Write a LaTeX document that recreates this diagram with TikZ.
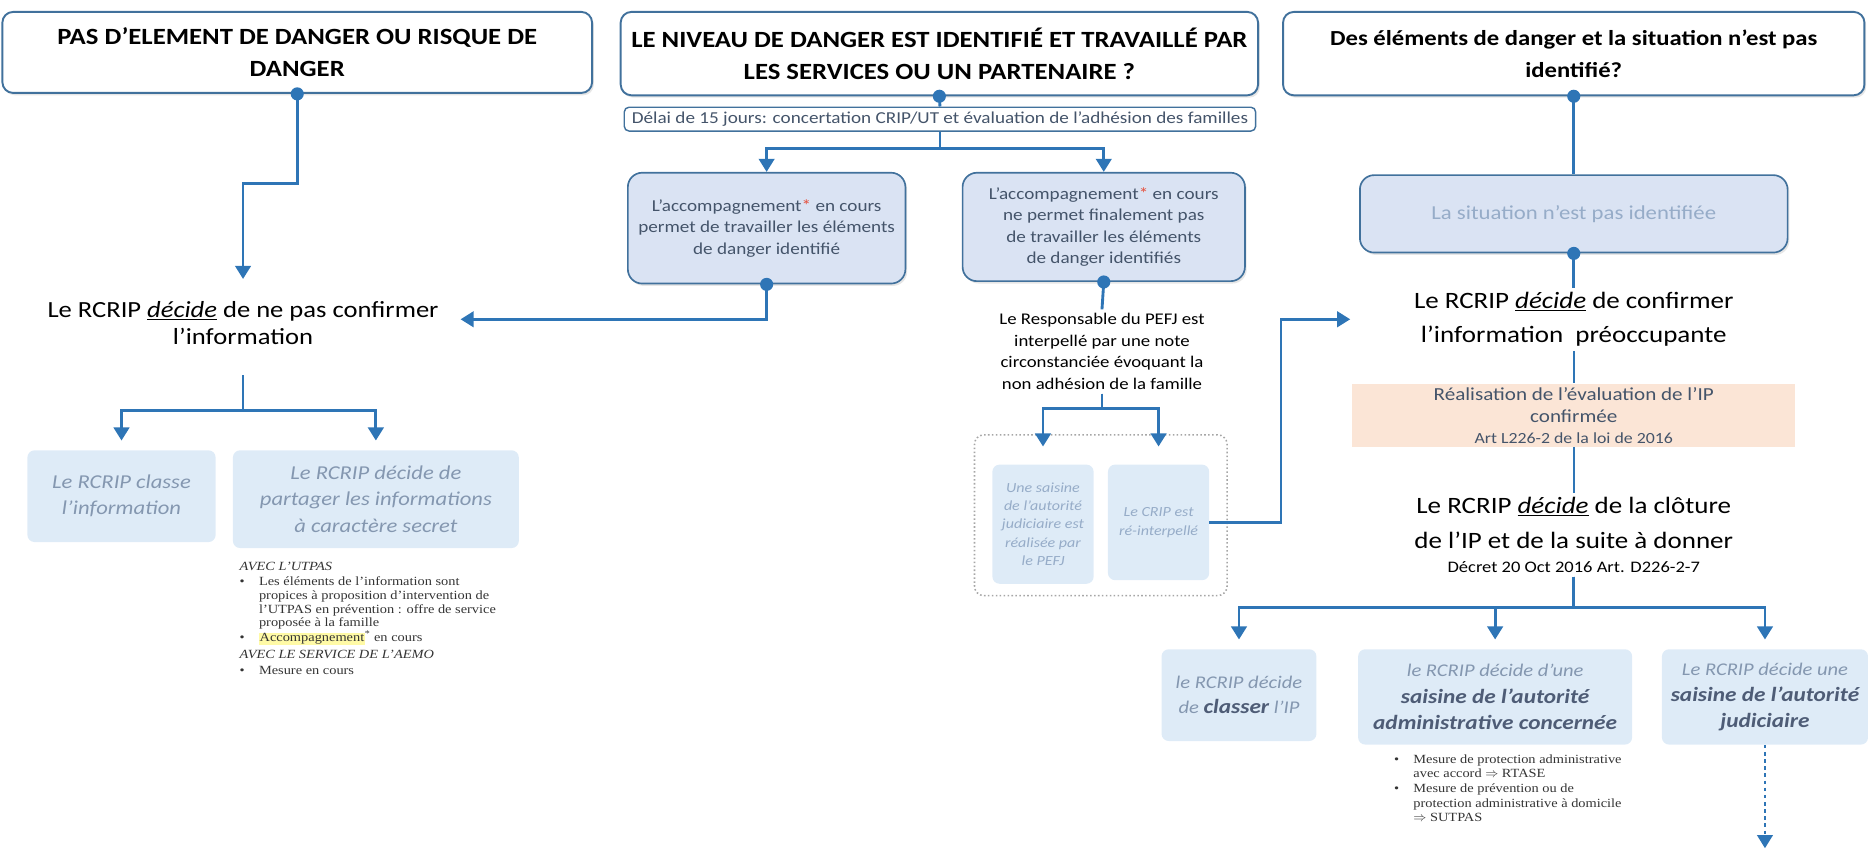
\documentclass[tikz,border=0pt]{standalone}
\usepackage{fontspec}
\setmainfont{Carlito}[FakeStretch=1.15]
\newfontfamily\notefont{Liberation Serif}[FakeStretch=1.15]
\usetikzlibrary{positioning,arrows.meta,shadows}

\definecolor{flowblue}{RGB}{46,117,182}
\definecolor{frameblue}{RGB}{65,113,156}
\definecolor{paleblue}{RGB}{218,227,243}
\definecolor{softblue}{RGB}{222,235,247}
\definecolor{greyblue}{RGB}{132,151,176}
\definecolor{darkgreyblue}{RGB}{78,92,118}
\definecolor{mistblue}{RGB}{150,172,200}
\definecolor{peach}{RGB}{251,229,214}
\definecolor{textgrey}{RGB}{68,84,106}
\definecolor{starred}{RGB}{230,80,60}

\tikzset{
  headbox/.style={draw=frameblue, line width=1.6pt, fill=white, rounded corners=9pt,
    align=center, drop shadow={opacity=0.2, shadow xshift=1.5pt, shadow yshift=-2pt},
    font=\fontsize{19.5}{27}\selectfont\bfseries},
  accbox/.style={draw=frameblue, line width=1.4pt, fill=paleblue, rounded corners=12pt,
    align=center, text=textgrey, drop shadow={opacity=0.2, shadow xshift=1.5pt, shadow yshift=-2pt},
    font=\fontsize{14}{18}\selectfont},
  softbox/.style={fill=softblue, rounded corners=6pt, align=center, text=greyblue,
    font=\fontsize{16.5}{22}\selectfont\itshape},
  decision/.style={align=center, font=\fontsize{19.7}{29}\selectfont},
  notes/.style={align=left, text=black!80, font=\notefont\fontsize{10.5}{11.5}\selectfont},
  flow/.style={->, draw=flowblue, line width=2.4pt},
  link/.style={draw=flowblue, line width=2.4pt},
}

\begin{document}
\begin{tikzpicture}[x=1pt, y=-1pt, >={Triangle[width=13pt,length=11pt]}]
\useasboundingbox (0,0) rectangle (1568,715);

% en-tetes
\node[headbox, minimum width=495pt, minimum height=68pt] (hA) at (249.5,44)
  {PAS D’ELEMENT DE DANGER OU RISQUE DE\\DANGER};
\node[headbox, minimum width=535pt, minimum height=70pt] (hB) at (788.5,45)
  {LE NIVEAU DE DANGER EST IDENTIFIÉ ET TRAVAILLÉ PAR\\LES SERVICES OU UN PARTENAIRE ?};
\node[headbox, font=\fontsize{18}{27}\selectfont\bfseries, minimum width=488pt,
  minimum height=70pt] (hC) at (1321,45)
  {Des éléments de danger et la situation n’est pas\\identifié?};

% colonne du milieu
\node[draw=frameblue, line width=1.2pt, fill=white, rounded corners=4pt, minimum width=530pt,
  minimum height=20pt, inner sep=1pt, text=textgrey, font=\fontsize{14}{16}\selectfont] (delai) at (789,100)
  {Délai de 15 jours: concertation CRIP/UT et évaluation de l’adhésion des familles};
\node[accbox, minimum width=233pt, minimum height=93pt] (acc1) at (643.5,191.5)
  {L’accompagnement{\color{starred}*} en cours\\permet de travailler les éléments\\de danger identifié};
\node[accbox, minimum width=237pt, minimum height=91pt] (acc2) at (926.5,190.5)
  {L’accompagnement{\color{starred}*} en cours\\ne permet finalement pas\\de travailler les éléments\\de danger identifiés};
\node[align=center, font=\fontsize{13.7}{18}\selectfont] (resp) at (925,295)
  {Le Responsable du PEFJ est\\interpellé par une note\\circonstanciée évoquant la\\non adhésion de la famille};
\node[draw=black!35, dotted, line width=1.3pt, rounded corners=8pt, minimum width=212pt,
  minimum height=135pt] (cadre) at (924,432.5) {};
\node[softbox, text=mistblue, font=\fontsize{11.7}{15.5}\selectfont\itshape, minimum width=85pt,
  minimum height=100pt, inner sep=1pt] (saisJ) at (875.5,440)
  {Une saisine\\de l’autorité\\judiciaire est\\réalisée par\\le PEFJ};
\node[softbox, text=mistblue, font=\fontsize{11.7}{15.5}\selectfont\itshape, minimum width=85pt,
  minimum height=97pt, inner sep=1pt] (recrip) at (972.5,438.5)
  {Le CRIP est\\ré-interpellé};

% colonne de gauche
\node[decision, font=\fontsize{19.4}{23}\selectfont] (nonconf) at (204,271)
  {Le RCRIP \underline{\textit{décide}} de ne pas confirmer\\l’information};
\node[softbox, minimum width=158pt, minimum height=77pt] (classe) at (102,416.5)
  {Le RCRIP classe\\l’information};
\node[softbox, minimum width=240pt, minimum height=82pt] (partage) at (315.5,419)
  {Le RCRIP décide de\\partager les informations\\à caractère secret};
\node[notes, anchor=north west, inner sep=0pt] (utpas) at (201,471) {%
  \begin{tabular}{@{}l@{\hspace{12pt}}l@{}}
  \multicolumn{2}{@{}l}{\textit{AVEC L’UTPAS}}\\[1pt]
  \textbullet & Les éléments de l’information sont\\
   & propices à proposition d’intervention de\\
   & l’UTPAS en prévention : offre de service\\
   & proposée à la famille\\
  \textbullet & {\fboxsep=0.5pt\colorbox{yellow!35}{Accompagnement}}\textsuperscript{*} en cours\\[3pt]
  \multicolumn{2}{@{}l}{\textit{AVEC LE SERVICE DE L’AEMO}}\\[2pt]
  \textbullet & Mesure en cours
  \end{tabular}};

% colonne de droite
\node[accbox, text=mistblue, font=\fontsize{16.6}{20}\selectfont, minimum width=359pt,
  minimum height=65pt] (sit) at (1321,179.5) {La situation n’est pas identifiée};
\node[decision] (confirm) at (1321,268)
  {Le RCRIP \underline{\textit{décide}} de confirmer\\l’information\ \ préoccupante};
\node[fill=peach, minimum width=372pt, minimum height=53pt, inner sep=1pt, align=center,
  text=textgrey, font=\fontsize{15.4}{19}\selectfont] (eval) at (1321,348.5)
  {Réalisation de l’évaluation de l’IP\\confirmée\\[-2pt]{\fontsize{13}{15}\selectfont Art L226-2 de la loi de 2016}};
\node[decision] (cloture) at (1321,449)
  {Le RCRIP \underline{\textit{décide}} de la clôture\\de l’IP et de la suite à donner\\[-9pt]
   {\fontsize{13.5}{16}\selectfont Décret 20 Oct 2016 Art. D226-2-7}};
\node[softbox, font=\fontsize{15}{21}\selectfont\itshape, minimum width=130pt,
  minimum height=77pt] (classIP) at (1040,583.5)
  {le RCRIP décide\\de {\fontsize{17}{21}\selectfont\bfseries\color{darkgreyblue}classer} l’IP};
\node[softbox, font=\fontsize{15}{22}\selectfont\itshape, minimum width=230pt,
  minimum height=80pt] (admin) at (1255,585)
  {le RCRIP décide d’une\\{\fontsize{17}{22}\selectfont\bfseries\color{darkgreyblue}saisine de l’autorité}\\
   {\fontsize{17}{22}\selectfont\bfseries\color{darkgreyblue}administrative concernée}};
\node[softbox, font=\fontsize{15}{22}\selectfont\itshape, minimum width=173pt,
  minimum height=80pt] (judic) at (1481.5,585)
  {Le RCRIP décide une\\{\fontsize{17}{22}\selectfont\bfseries\color{darkgreyblue}saisine de l’autorité}\\
   {\fontsize{17}{22}\selectfont\bfseries\color{darkgreyblue}judiciaire}};
\node[notes, anchor=north west, inner sep=0pt, font=\notefont\fontsize{10.5}{12}\selectfont] (mesures) at (1170,632) {%
  \begin{tabular}{@{}l@{\hspace{12pt}}l@{}}
  \textbullet & Mesure de protection administrative\\
   & avec accord $\Rightarrow$ RTASE\\[1pt]
  \textbullet & Mesure de prévention ou de\\
   & protection administrative à domicile\\
   & $\Rightarrow$ SUTPAS
  \end{tabular}};
\coordinate (fin) at (1481.5,712);

% liaisons
\draw[flow, shorten >=15pt] (hA.south) -- ++(0,75) -| (nonconf.north);
\draw[link] (hB.south) -- (delai.north);
\draw[flow] (delai.south) |- ([yshift=20pt]acc1.north) -- (acc1.north);
\draw[flow] (delai.south) |- ([yshift=20pt]acc2.north) -- (acc2.north);
\draw[flow] (acc1.south) |- ([xshift=15pt,yshift=3pt]nonconf.east);
\draw[link] (acc2.south) -- (resp.north);
\draw[flow, shorten >=15pt] (resp.south) |- ([yshift=47pt]saisJ.north) -- (saisJ.north);
\draw[flow, shorten >=15pt] (resp.south) |- ([yshift=47pt]recrip.north) -- (recrip.north);
\draw[flow, shorten >=50pt] (recrip.east) -- ++(60,0) |- (confirm.west);
\draw[flow, shorten <=22pt, shorten >=8pt] (nonconf.south) |- ([yshift=33pt]classe.north) -- (classe.north);
\draw[flow, shorten <=22pt, shorten >=8pt] (nonconf.south) |- ([yshift=33pt]partage.north) -- (partage.north);
\draw[link] (hC.south) -- (sit.north);
\draw[link] (sit.south) -- (confirm.north);
\draw[link, line width=1.6pt] (confirm.south) -- (eval.north);
\draw[link, line width=1.6pt] (eval.south) -- (cloture.north);
\draw[flow, shorten >=8pt] (cloture.south) |- ([yshift=35pt]classIP.north) -- (classIP.north);
\draw[flow, shorten >=8pt] (cloture.south) |- ([yshift=35pt]admin.north) -- (admin.north);
\draw[flow, shorten >=8pt] (cloture.south) |- ([yshift=35pt]judic.north) -- (judic.north);
\draw[flow, dashed, line width=2pt] (judic.south) -- (fin);

% points de depart
\foreach \d in {hA.south, hB.south, hC.south, acc1.south, acc2.south, sit.south}
  \fill[flowblue] (\d) circle (5.5pt);
\end{tikzpicture}
\end{document}
